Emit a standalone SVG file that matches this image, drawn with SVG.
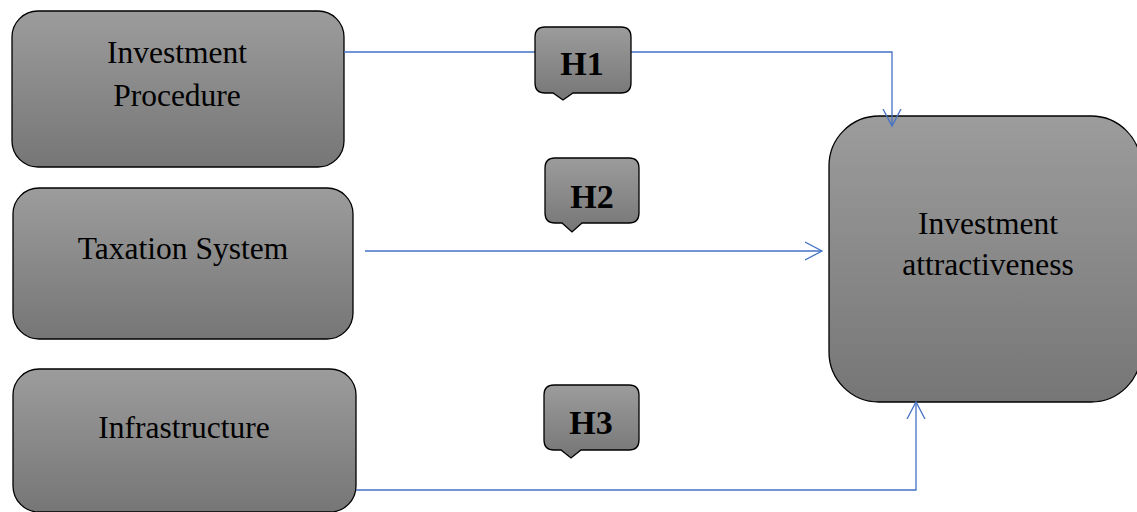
<svg xmlns="http://www.w3.org/2000/svg" width="1137" height="512" viewBox="0 0 1137 512">
<defs>
<linearGradient id="g" x1="0" y1="0" x2="0" y2="1">
<stop offset="0" stop-color="#9c9c9c"/>
<stop offset="1" stop-color="#767676"/>
</linearGradient>
<marker id="arr" markerWidth="20" markerHeight="24" refX="17" refY="10" orient="auto" markerUnits="userSpaceOnUse" viewBox="0 0 20 20">
<path d="M0,1 L17,10 L0,19" fill="none" stroke="#4472c4" stroke-width="1.3"/>
</marker>
</defs>
<style>
.box{fill:url(#g);stroke:#000;stroke-width:1.3}
.t{font-family:"Liberation Serif","Times New Roman",serif;font-size:31.5px;fill:#000;text-anchor:middle}
.h{font-family:"Liberation Serif","Times New Roman",serif;font-size:34px;font-weight:bold;fill:#000;text-anchor:middle}
.c{fill:none;stroke:#4472c4;stroke-width:1.3}
</style>
<rect width="1137" height="512" fill="#fff"/>
<g id="investment-procedure">
<rect class="box" x="12" y="11" width="332" height="156" rx="26"/>
<text class="t" x="177" y="63">Investment</text>
<text class="t" x="177" y="106">Procedure</text>
</g>
<g id="taxation-system">
<rect class="box" x="13" y="188" width="340" height="151" rx="26"/>
<text class="t" x="183" y="259">Taxation System</text>
</g>
<g id="infrastructure">
<rect class="box" x="13" y="369" width="343" height="143" rx="26"/>
<text class="t" x="184" y="438">Infrastructure</text>
</g>
<g id="investment-attractiveness">
<rect class="box" x="829" y="116" width="312" height="286" rx="50"/>
<text class="t" x="988" y="234">Investment</text>
<text class="t" x="988" y="275">attractiveness</text>
</g>
<g id="connectors">
<polyline class="c" points="344,52 892,52 892,126" marker-end="url(#arr)"/>
<line class="c" x1="365" y1="251" x2="822" y2="251" marker-end="url(#arr)"/>
<polyline class="c" points="356,490 916,490 916,402" marker-end="url(#arr)"/>
</g>
<g id="h1">
<path class="box" d="M545,27 H621 Q631,27 631,37 V83 Q631,93 621,93 H573 L563,100 L553,93 H545 Q535,93 535,83 V37 Q535,27 545,27 Z"/>
<text class="h" x="582" y="75">H1</text>
</g>
<g id="h2">
<path class="box" d="M555,158 H629 Q639,158 639,168 V213 Q639,223 629,223 H582 L572,232 L562,223 H555 Q545,223 545,213 V168 Q545,158 555,158 Z"/>
<text class="h" x="592" y="208">H2</text>
</g>
<g id="h3">
<path class="box" d="M554,385 H629 Q639,385 639,395 V440 Q639,450 629,450 H581 L571,458 L561,450 H554 Q544,450 544,440 V395 Q544,385 554,385 Z"/>
<text class="h" x="591" y="434">H3</text>
</g>
</svg>
